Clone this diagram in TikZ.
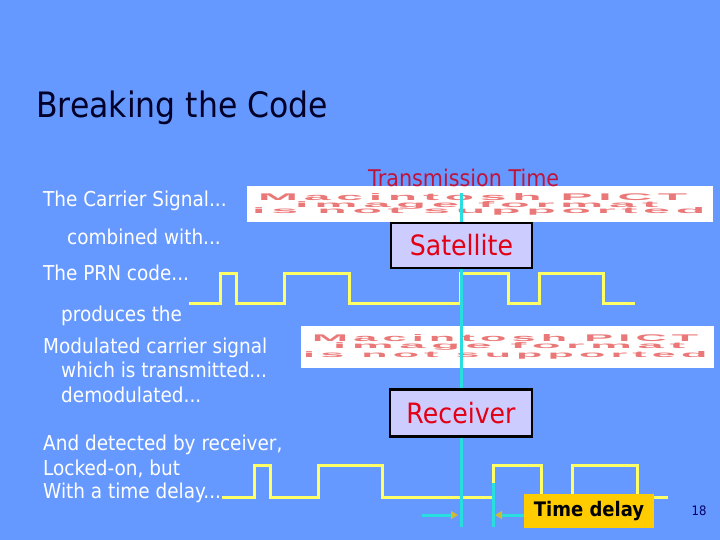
\documentclass[tikz,border=0pt]{standalone}
\usepackage{fontspec}
\usepackage{graphicx}
\setmainfont{DejaVu Sans}[FakeStretch=0.9]
\newfontfamily\pictfont{Liberation Sans}[LetterSpace=12]
\usetikzlibrary{arrows.meta}
\definecolor{bgblue}{RGB}{102,153,255}
\definecolor{titlec}{RGB}{0,0,40}
\definecolor{lav}{RGB}{204,204,255}
\definecolor{redtxt}{RGB}{228,0,20}
\definecolor{crimson}{RGB}{190,20,60}
\definecolor{wave}{RGB}{255,255,102}
\definecolor{cyanl}{RGB}{40,222,222}
\definecolor{orangebox}{RGB}{255,204,0}
\definecolor{tipc}{RGB}{204,187,51}
\definecolor{pictred}{RGB}{235,120,120}
\definecolor{numc}{RGB}{0,0,102}
\begin{document}
\begin{tikzpicture}[x=1pt,y=-1pt,
  lefttxt/.style={anchor=base west, inner sep=0pt, text=white, font=\fontsize{20.5}{24}\selectfont},
  pictbox/.style={fill=white, draw=none, anchor=north west, inner sep=0pt},
  pictline/.style={anchor=north west, inner sep=0pt, text=pictred, font=\pictfont\bfseries},
  labbox/.style={draw=black, line width=2.5pt, fill=lav, text=redtxt, inner sep=0pt,
     font=\fontsize{28}{32}\selectfont},
  wavel/.style={draw=wave, line width=3pt},
  cyanline/.style={draw=cyanl, line width=3pt},
  delayarrow/.style={draw=cyanl, line width=3pt, -{Triangle[length=7pt,width=8pt,color=tipc]}}
]
\fill[bgblue] (0,0) rectangle (720,540);
\useasboundingbox (0,0) rectangle (720,540);

% title
\node[anchor=base west, inner sep=0pt, text=titlec, font=\fontsize{35}{40}\selectfont] (title) at (36,118) {Breaking the Code};

% left texts
\node[lefttxt] (t1) at (43,207) {The Carrier Signal...};
\node[lefttxt] (t2) at (67,244) {combined with...};
\node[lefttxt] (t3) at (43,280) {The PRN code...};
\node[lefttxt] (t4) at (61,321) {produces the};
\node[lefttxt] (t5) at (43,353) {Modulated carrier signal};
\node[lefttxt] (t6) at (61,377) {which is transmitted...};
\node[lefttxt] (t7) at (61,402) {demodulated...};
\node[lefttxt] (t8) at (43,450) {And detected by receiver,};
\node[lefttxt] (t9) at (43,475) {Locked-on, but};
\node[lefttxt] (t10) at (43,498) {With a time delay...};

% PICT placeholders
\node[pictbox, minimum width=466pt, minimum height=36pt] (pict1) at (247,186) {};
\node[pictline] (p1a) at (258,193) {\resizebox{429pt}{7pt}{Macintosh PICT}};
\node[pictline] (p1b) at (295,201) {\resizebox{363pt}{6pt}{image format}};
\node[pictline] (p1c) at (252,207) {\resizebox{453pt}{6pt}{is not supported}};

\node[pictbox, minimum width=413pt, minimum height=42pt] (pict2) at (301,326) {};
\node[pictline] (p2a) at (312,334) {\resizebox{386pt}{7pt}{Macintosh PICT}};
\node[pictline] (p2b) at (333,342) {\resizebox{352pt}{6pt}{image format}};
\node[pictline] (p2c) at (303,351) {\resizebox{404pt}{6pt}{is not supported}};

% Transmission time label
\node[anchor=base west, inner sep=0pt, text=crimson, font=\fontsize{23}{26}\selectfont] (tt) at (368,187) {Transmission Time};

% waveforms
\draw[wavel] (189,303) -- (220,303) -- (220,273) -- (236,273) -- (236,303) -- (284,303) -- (284,273)
  -- (349,273) -- (349,303) -- (460,303) -- (460,273) -- (508,273) -- (508,303) -- (539,303)
  -- (539,273) -- (603,273) -- (603,303) -- (635,303);
\draw[wavel] (222,497) -- (254,497) -- (254,465) -- (270,465) -- (270,497) -- (318,497) -- (318,465)
  -- (382,465) -- (382,497) -- (493,497) -- (493,465) -- (541,465) -- (541,497) -- (572,497)
  -- (572,465) -- (637,465) -- (637,497) -- (668,497);

% time lines
\coordinate (ltop) at (461.5,193);
\coordinate (lbot) at (461.5,527);
\coordinate (rtop) at (493,483);
\coordinate (rbot) at (493,527);
\draw[cyanline] (ltop) -- (lbot);
\draw[cyanline] (rtop) -- (rbot);

% boxes
\node[labbox, minimum width=141pt, minimum height=45pt] (sat) at (461.5,245.5) {Satellite};
\node[labbox, minimum width=142pt, minimum height=47pt] (rec) at (461,413) {Receiver};
\node[fill=orangebox, inner sep=0pt, minimum width=130pt, minimum height=34pt,
  font=\fontsize{20}{24}\selectfont\bfseries, text=black] (delay) at (589,511) {Time delay};

% delay arrows
\coordinate (a1s) at (422,515);
\coordinate (a1e) at (458,515);
\coordinate (a2e) at (495,515);
\draw[delayarrow] (a1s) -- (a1e);
\draw[delayarrow] (delay.west |- a2e) -- (a2e);

% page number
\node[anchor=center, inner sep=0pt, text=numc, font=\fontsize{13}{15}\selectfont] (num) at (699,511) {18};
\end{tikzpicture}
\end{document}
